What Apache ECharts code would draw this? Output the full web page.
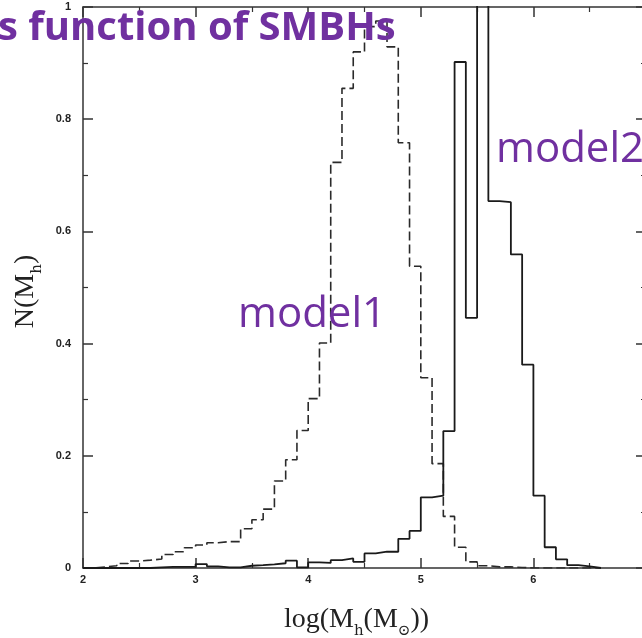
<!DOCTYPE html>
<html>
<head>
<meta charset="utf-8">
<script src="https://cdn.jsdelivr.net/npm/echarts@6/dist/echarts.min.js"></script>
<style>
  html, body { margin: 0; padding: 0; background: #fff; }
  #chart { width: 642px; height: 638px; }
</style>
</head>
<body>
<div id="chart"></div>
<script>
// Bin edges of log(M_h) histogram (bin width 0.1)
const binEdges = [
  2.0, 2.1, 2.2, 2.3, 2.4, 2.5, 2.6, 2.7, 2.8, 2.9,
  3.0, 3.1, 3.2, 3.3, 3.4, 3.5, 3.6, 3.7, 3.8, 3.9,
  4.0, 4.1, 4.2, 4.3, 4.4, 4.5, 4.6, 4.7, 4.8, 4.9,
  5.0, 5.1, 5.2, 5.3, 5.4, 5.5, 5.6, 5.7, 5.8, 5.9,
  6.0, 6.1, 6.2, 6.3, 6.4, 6.5, 6.6
];

// model1 (dashed) bin heights
const model1 = [
  0.000, 0.002, 0.004, 0.008, 0.0125, 0.014, 0.016, 0.024, 0.029, 0.036,
  0.041, 0.045, 0.047, 0.047, 0.070, 0.086, 0.105, 0.155, 0.193, 0.245,
  0.302, 0.401, 0.723, 0.855, 0.920, 0.965, 0.975, 0.929, 0.758, 0.538,
  0.339, 0.186, 0.092, 0.037, 0.011, 0.004, 0.002, 0.002, 0.001, 0.000,
  0.000, 0.000, 0.000, 0.000, 0.000, 0.000
];

// model2 (solid) bin heights
const model2 = [
  0.000, 0.000, 0.000, 0.000, 0.000, 0.000, 0.001, 0.002, 0.002, 0.002,
  0.007, 0.003, 0.001, 0.001, 0.004, 0.005, 0.0066, 0.0085, 0.013, 0.001,
  0.010, 0.009, 0.014, 0.017, 0.011, 0.026, 0.029, 0.029, 0.052, 0.066,
  0.126, 0.129, 0.244, 0.902, 0.446, 1.200, 0.654, 0.652, 0.559, 0.3625,
  0.129, 0.037, 0.0155, 0.005, 0.003, 0.000
];

const xTicks = [2, 3, 4, 5, 6, 7];
const yTicks = [0, 0.2, 0.4, 0.6, 0.8, 1];

// Turn bin heights into a stepped outline
function stepOutline(heights) {
  const pts = [];
  for (let i = 0; i < heights.length; i++) {
    pts.push([binEdges[i], heights[i]]);
    pts.push([binEdges[i + 1], heights[i]]);
  }
  return pts;
}

const purple = '#7030A0';
const axisColor = '#333';
const tickFont = { fontFamily: 'Liberation Sans', fontWeight: 'bold', fontSize: 11, color: '#222' };
const nameRich = {
  a: { fontFamily: 'Liberation Serif', fontSize: 28, color: '#222', lineHeight: 38 },
  s: { fontFamily: 'DejaVu Serif', fontSize: 15, color: '#222', verticalAlign: 'bottom', lineHeight: 38 }
};

const chart = echarts.init(document.getElementById('chart'), null, { renderer: 'canvas' });

const baseX = {
  type: 'value', min: xTicks[0], max: xTicks[xTicks.length - 1], interval: 1,
  axisLine: { show: true, onZero: false, lineStyle: { color: axisColor, width: 1.5 } },
  axisTick: { show: true, inside: true, length: 10, lineStyle: { color: axisColor, width: 1.5 } },
  minorTick: { show: true, splitNumber: 2, length: 5, lineStyle: { color: axisColor, width: 1.2 } },
  splitLine: { show: false }
};
const baseY = {
  type: 'value', min: yTicks[0], max: yTicks[yTicks.length - 1], interval: 0.2,
  axisLine: { show: true, onZero: false, lineStyle: { color: axisColor, width: 1.5 } },
  axisTick: { show: true, inside: true, length: 10, lineStyle: { color: axisColor, width: 1.5 } },
  minorTick: { show: true, splitNumber: 2, length: 5, lineStyle: { color: axisColor, width: 1.2 } },
  splitLine: { show: false }
};

chart.setOption({
  animation: false,
  backgroundColor: '#fff',
  grid: { left: 83, top: 7, width: 563, height: 561, containLabel: false, outerBoundsMode: 'none' },
  xAxis: [
    Object.assign({}, baseX, {
      position: 'bottom',
      axisLabel: Object.assign({ margin: 6 }, tickFont),
      name: '{a|log(M}{s|h}{a|(M}{s|⊙}{a|))}',
      nameLocation: 'middle',
      nameGap: 33,
      nameTextStyle: { padding: [0, 16, 0, 0], rich: nameRich }
    }),
    Object.assign({}, baseX, { position: 'top', axisLabel: { show: false } })
  ],
  yAxis: [
    Object.assign({}, baseY, {
      position: 'left',
      axisLabel: Object.assign({ margin: 12 }, tickFont),
      name: '{a|N(M}{s|h}{a|)}',
      nameLocation: 'middle',
      nameRotate: 90,
      nameGap: 35,
      nameTextStyle: { padding: [0, 8, 0, 0], rich: nameRich }
    }),
    Object.assign({}, baseY, { position: 'right', axisLabel: { show: false } })
  ],
  series: [
    {
      name: 'model1', type: 'line', xAxisIndex: 0, yAxisIndex: 0,
      data: stepOutline(model1), showSymbol: false, clip: true,
      lineStyle: { color: '#2a2a2a', width: 1.6, type: [9, 4] }, z: 3
    },
    {
      name: 'model2', type: 'line', xAxisIndex: 0, yAxisIndex: 0,
      data: stepOutline(model2), showSymbol: false, clip: true,
      lineStyle: { color: '#1a1a1a', width: 1.8 }, z: 4
    }
  ],
  graphic: [
    {
      type: 'text', left: -2, top: 9, z: 100,
      style: { text: 's function of SMBHs', fill: purple, font: 'bold 40px "Open Sans"' }
    },
    {
      type: 'text', left: 238, top: 294, z: 100,
      style: { text: 'model1', fill: purple, font: '42px "Open Sans"' }
    },
    {
      type: 'text', left: 496, top: 129, z: 100,
      style: { text: 'model2', fill: purple, font: '42px "Open Sans"' }
    }
  ]
});
</script>
</body>
</html>
